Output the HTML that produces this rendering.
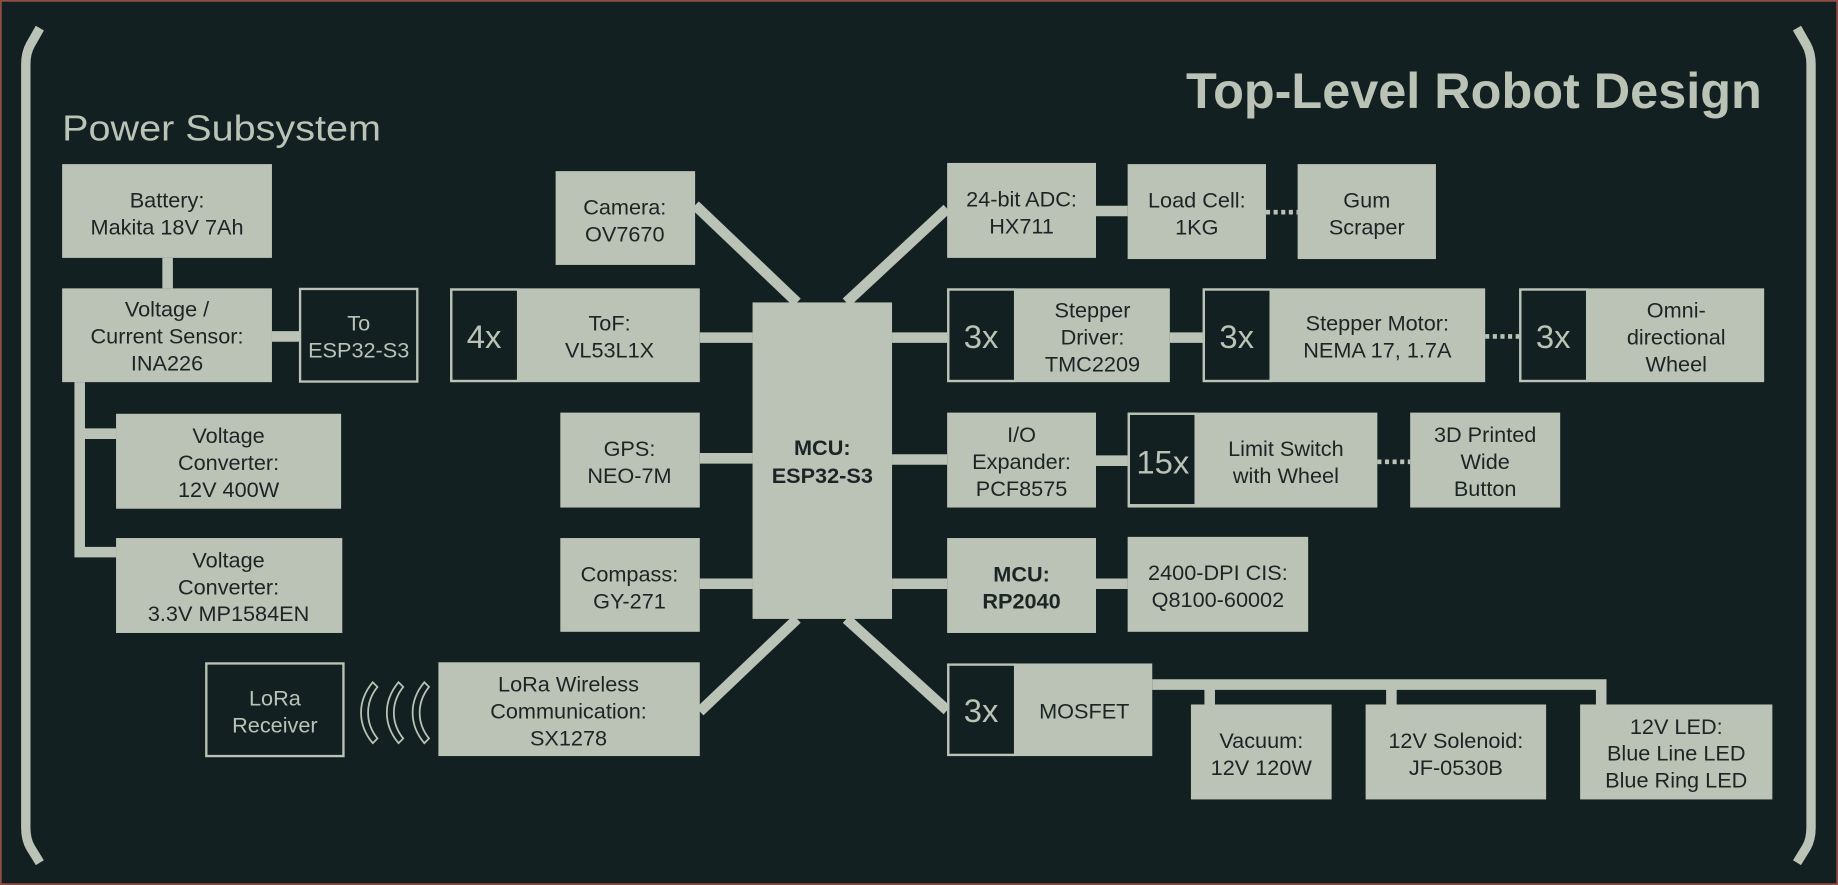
<!DOCTYPE html>
<html><head><meta charset="utf-8"><style>
html,body{margin:0;padding:0;background:#132022;}
svg{display:block}
text{font-family:"Liberation Sans",sans-serif;}
.b{fill:#bac3b5}
.t{fill:#1b2526;font-size:18.5px;text-anchor:middle}
.x{fill:#bac3b5;font-size:28px;text-anchor:middle}
.l{stroke:#bac3b5;fill:none}
</style></head><body>
<svg width="1838" height="885" viewBox="0 0 1568 755" preserveAspectRatio="none">
<rect x="0" y="0" width="1568" height="755" fill="#132022"/>
<rect x="0.5" y="0.5" width="1567" height="754" fill="none" stroke="#8e4e42" stroke-width="2"/>
<!-- brackets -->
<path class="l" stroke-width="8" d="M34,24 L26,38 Q22,45 22,55 L22,706 Q22,716 26,723 L34,736"/>
<path class="l" stroke-width="8" d="M1533,24 L1541,38 Q1545,45 1545,55 L1545,706 Q1545,716 1541,723 L1533,736"/>
<text x="1503" y="92" fill="#bac3b5" font-size="43" font-weight="bold" text-anchor="end">Top-Level Robot Design</text>
<text x="53" y="120" fill="#bac3b5" font-size="31" textLength="272" lengthAdjust="spacingAndGlyphs">Power Subsystem</text>

<!-- connectors -->
<g class="l" stroke-width="9">
<line x1="143" y1="220" x2="143" y2="246"/>
<line x1="232" y1="287" x2="256" y2="287"/>
<path d="M68,326 L68,471 L99,471 M68,370 L99,370"/>
<line x1="593" y1="175" x2="680" y2="258"/>
<line x1="597" y1="288" x2="642" y2="288"/>
<line x1="597" y1="391" x2="642" y2="391"/>
<line x1="597" y1="498" x2="642" y2="498"/>
<line x1="597" y1="607" x2="680" y2="528"/>
<line x1="722" y1="258" x2="808" y2="178"/>
<line x1="935" y1="180" x2="962" y2="180"/>
<line x1="761" y1="288" x2="808" y2="288"/>
<line x1="998" y1="288" x2="1026" y2="288"/>
<line x1="761" y1="392" x2="808" y2="392"/>
<line x1="935" y1="393" x2="962" y2="393"/>
<line x1="761" y1="498" x2="808" y2="498"/>
<line x1="935" y1="498" x2="962" y2="498"/>
<line x1="722" y1="528" x2="808" y2="606"/>
<path d="M983,584 L1366,584 L1366,601 M1032,584 L1032,601 M1187,584 L1187,601"/>
</g>
<g class="l" stroke-width="4" stroke-dasharray="3.5 3">
<line x1="1080" y1="181" x2="1107" y2="181"/>
<line x1="1267" y1="287" x2="1296" y2="287"/>
<line x1="1175" y1="394" x2="1203" y2="394"/>
</g>

<!-- power boxes -->
<rect class="b" x="53" y="140" width="179" height="80"/>
<text class="t" x="142.5" y="177">Battery:</text><text class="t" x="142.5" y="200">Makita 18V 7Ah</text>
<rect class="b" x="53" y="246" width="179" height="80"/>
<text class="t" x="142.5" y="270">Voltage /</text><text class="t" x="142.5" y="293">Current Sensor:</text><text class="t" x="142.5" y="316">INA226</text>
<rect x="256" y="246.5" width="100" height="79" fill="none" stroke="#bac3b5" stroke-width="2"/>
<text class="t" x="306" y="282" style="fill:#bac3b5">To</text><text class="t" x="306" y="305" style="fill:#bac3b5">ESP32-S3</text>
<rect class="b" x="99" y="353" width="192" height="81"/>
<text class="t" x="195" y="378">Voltage</text><text class="t" x="195" y="401">Converter:</text><text class="t" x="195" y="424">12V 400W</text>
<rect class="b" x="99" y="459" width="193" height="81"/>
<text class="t" x="195" y="484">Voltage</text><text class="t" x="195" y="507">Converter:</text><text class="t" x="195" y="530">3.3V MP1584EN</text>

<!-- left sensors -->
<rect class="b" x="474" y="146" width="119" height="80"/>
<text class="t" x="533" y="183">Camera:</text><text class="t" x="533" y="206">OV7670</text>
<rect class="b" x="384" y="246" width="213" height="80"/>
<rect x="385" y="247" width="57" height="78" fill="#132022" stroke="#bac3b5" stroke-width="2"/>
<text class="x" x="413" y="297">4x</text>
<text class="t" x="520" y="282">ToF:</text><text class="t" x="520" y="305">VL53L1X</text>
<rect class="b" x="478" y="352" width="119" height="81"/>
<text class="t" x="537" y="389">GPS:</text><text class="t" x="537" y="412">NEO-7M</text>
<rect class="b" x="478" y="459" width="119" height="80"/>
<text class="t" x="537" y="496">Compass:</text><text class="t" x="537" y="519">GY-271</text>
<rect class="b" x="374" y="565" width="223" height="80"/>
<text class="t" x="485" y="590">LoRa Wireless</text><text class="t" x="485" y="613">Communication:</text><text class="t" x="485" y="636">SX1278</text>
<rect x="176" y="566" width="117" height="79" fill="none" stroke="#bac3b5" stroke-width="2"/>
<text class="t" x="234.5" y="602" style="fill:#bac3b5">LoRa</text><text class="t" x="234.5" y="625" style="fill:#bac3b5">Receiver</text>
<g fill="none" stroke="#bac3b5" stroke-width="1.5">
<path d="M318,582 L322,586 Q314,596 314,608 Q314,620 322,630 L318,634 Q308,622 308,608 Q308,594 318,582Z"/>
<path d="M340,582 L344,586 Q336,596 336,608 Q336,620 344,630 L340,634 Q330,622 330,608 Q330,594 340,582Z"/>
<path d="M362,582 L366,586 Q358,596 358,608 Q358,620 366,630 L362,634 Q352,622 352,608 Q352,594 362,582Z"/>
</g>

<!-- MCU -->
<rect class="b" x="642" y="258" width="119" height="270"/>
<text class="t" x="701.5" y="388" font-weight="bold">MCU:</text><text class="t" x="701.5" y="412" font-weight="bold">ESP32-S3</text>

<!-- right -->
<rect class="b" x="808" y="139" width="127" height="81"/>
<text class="t" x="871.5" y="176">24-bit ADC:</text><text class="t" x="871.5" y="199">HX711</text>
<rect class="b" x="962" y="140" width="118" height="81"/>
<text class="t" x="1021" y="177">Load Cell:</text><text class="t" x="1021" y="200">1KG</text>
<rect class="b" x="1107" y="140" width="118" height="81"/>
<text class="t" x="1166" y="177">Gum</text><text class="t" x="1166" y="200">Scraper</text>

<rect class="b" x="808" y="246" width="190" height="80"/>
<rect x="809" y="247" width="57" height="78" fill="#132022" stroke="#bac3b5" stroke-width="2"/>
<text class="x" x="837" y="297">3x</text>
<text class="t" x="932" y="271">Stepper</text><text class="t" x="932" y="294">Driver:</text><text class="t" x="932" y="317">TMC2209</text>
<rect class="b" x="1026" y="246" width="241" height="80"/>
<rect x="1027" y="247" width="57" height="78" fill="#132022" stroke="#bac3b5" stroke-width="2"/>
<text class="x" x="1055" y="297">3x</text>
<text class="t" x="1175" y="282">Stepper Motor:</text><text class="t" x="1175" y="305">NEMA 17, 1.7A</text>
<rect class="b" x="1296" y="246" width="209" height="80"/>
<rect x="1297" y="247" width="57" height="78" fill="#132022" stroke="#bac3b5" stroke-width="2"/>
<text class="x" x="1325" y="297">3x</text>
<text class="t" x="1430" y="271">Omni-</text><text class="t" x="1430" y="294">directional</text><text class="t" x="1430" y="317">Wheel</text>

<rect class="b" x="808" y="352" width="127" height="81"/>
<text class="t" x="871.5" y="377">I/O</text><text class="t" x="871.5" y="400">Expander:</text><text class="t" x="871.5" y="423">PCF8575</text>
<rect class="b" x="962" y="352" width="213" height="81"/>
<rect x="963" y="353" width="57" height="78" fill="#132022" stroke="#bac3b5" stroke-width="2"/>
<text class="x" x="992" y="404">15x</text>
<text class="t" x="1097" y="389">Limit Switch</text><text class="t" x="1097" y="412">with Wheel</text>
<rect class="b" x="1203" y="352" width="128" height="81"/>
<text class="t" x="1267" y="377">3D Printed</text><text class="t" x="1267" y="400">Wide</text><text class="t" x="1267" y="423">Button</text>

<rect class="b" x="808" y="459" width="127" height="81"/>
<text class="t" x="871.5" y="496" font-weight="bold">MCU:</text><text class="t" x="871.5" y="519" font-weight="bold">RP2040</text>
<rect class="b" x="962" y="458" width="154" height="81"/>
<text class="t" x="1039" y="495">2400-DPI CIS:</text><text class="t" x="1039" y="518">Q8100-60002</text>

<rect class="b" x="808" y="566" width="175" height="79"/>
<rect x="809" y="567" width="57" height="77" fill="#132022" stroke="#bac3b5" stroke-width="2"/>
<text class="x" x="837" y="616">3x</text>
<text class="t" x="925" y="613">MOSFET</text>
<rect class="b" x="1016" y="601" width="120" height="81"/>
<text class="t" x="1076" y="638">Vacuum:</text><text class="t" x="1076" y="661">12V 120W</text>
<rect class="b" x="1165" y="601" width="154" height="81"/>
<text class="t" x="1242" y="638">12V Solenoid:</text><text class="t" x="1242" y="661">JF-0530B</text>
<rect class="b" x="1348" y="601" width="164" height="81"/>
<text class="t" x="1430" y="626">12V LED:</text><text class="t" x="1430" y="649">Blue Line LED</text><text class="t" x="1430" y="672">Blue Ring LED</text>
</svg>
</body></html>
